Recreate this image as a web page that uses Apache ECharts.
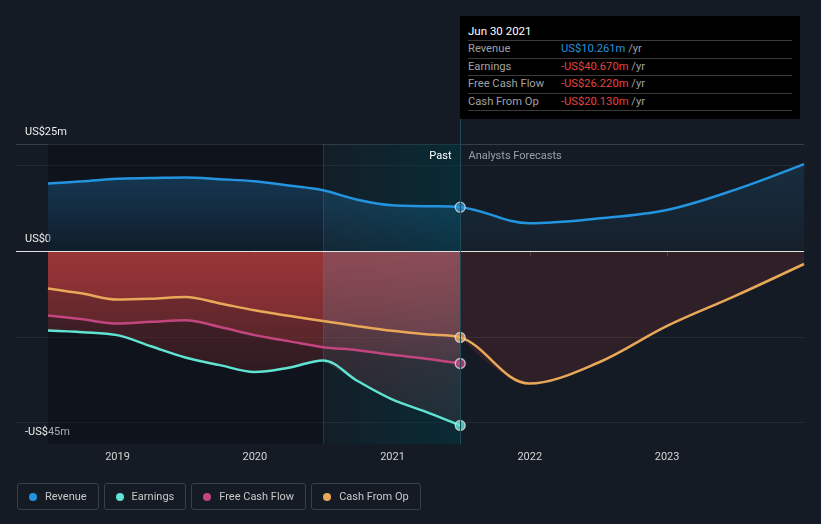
<!DOCTYPE html>
<html><head><meta charset="utf-8">
<script src="https://cdn.jsdelivr.net/npm/echarts@6/dist/echarts.min.js"></script>
<style>
html,body{margin:0;padding:0;background:#151b24;width:821px;height:524px;overflow:hidden;font-family:Roboto,"Noto Sans",sans-serif;}
#c{width:821px;height:524px;position:absolute;left:0;top:0;}
#tip{position:absolute;background:#000;width:340px;height:103px;top:16px;box-sizing:border-box;padding:0 8px;}
#tip .t{color:#fff;font-size:11.5px;line-height:14px;padding-top:8px;height:16px;border-bottom:1px solid #3a3a3a;}
#tip .r{font-size:11.2px;line-height:16.5px;border-bottom:1px solid #3a3a3a;color:#a0a0a0;display:flex;}
#tip .r .l{width:93px;}
#tip .r .u{color:#a0a0a0;}
#legend{position:absolute;left:17px;top:483px;display:flex;}
#legend .it{height:25px;border:1px solid #3a3f48;border-radius:3px;margin-right:5px;padding:0 11px;display:flex;align-items:center;color:#c8c8c8;font-size:11px;}
#legend .d{width:8px;height:8px;border-radius:50%;margin-right:8px;}
</style></head><body>
<div id="c"></div><div id="tip"></div><div id="legend"></div>
<script>
const seriesNames = ['Revenue', 'Earnings', 'Free Cash Flow', 'Cash From Op'];
const seriesColors = ['#2394df', '#5fe3d3', '#c2457f', '#e8a857'];

const pastDates = ['2018-06-30','2018-09-30','2018-12-31','2019-03-31','2019-06-30','2019-09-30','2019-12-31','2020-03-31','2020-06-30','2020-09-30','2020-12-31','2021-03-31','2021-06-30'];
const revenuePast  = [15.8, 16.3, 16.9, 17.05, 17.2, 16.8, 16.3, 15.3, 14.2, 12.0, 10.7, 10.5, 10.261];
const earningsPast = [-18.5, -18.9, -19.6, -22.2, -24.8, -26.6, -28.2, -27.2, -25.5, -30.3, -34.6, -37.5, -40.67];
const fcfPast      = [-15.0, -15.9, -16.9, -16.5, -16.1, -17.7, -19.6, -21.0, -22.4, -23.1, -24.2, -25.1, -26.22];
const cfoPast      = [-8.7, -9.9, -11.3, -11.1, -10.7, -12.2, -13.8, -15.1, -16.3, -17.5, -18.6, -19.4, -20.13];

const forecastDates    = ['2021-06-30','2021-12-31','2022-06-30','2022-12-31','2023-06-30','2023-12-31'];
const revenueForecast  = [10.261, 6.5, 7.6, 9.6, 14.3, 20.3];
const cfoForecast      = [-20.13, -30.9, -26.1, -17.5, -10.5, -3.0];

const highlightStart = '2020-06-30';
const xMin = '2018-04-06', xMax = '2023-12-31';
const yearTicks = ['2019-01-01','2020-01-01','2021-01-01','2022-01-01','2023-01-01'];
const yTickValues = [25, 0, -45];
const yTickLabels = ['US$25m', 'US$0', '-US$45m'];
const tipTitle = 'Jun 30 2021';
const pastLabel = 'Past', forecastLabel = 'Analysts Forecasts';

const P = d => Date.parse(d + 'T00:00:00Z');
const pair = (dates, vals) => dates.map((d, i) => [P(d), vals[i]]);
const SM = 0.35;
const lastIdx = pastDates.length - 1;
const hIdx = pastDates.indexOf(highlightStart);
const lastDate = pastDates[lastIdx];
const pastSets = [revenuePast, earningsPast, fcfPast, cfoPast];

function LG(stops, horiz) {
  return new echarts.graphic.LinearGradient(0, 0, horiz ? 1 : 0, horiz ? 0 : 1, stops.map(s => ({offset: s[0], color: s[1]})));
}
function GLG(y0, y1, rgb, alphas) {
  return new echarts.graphic.LinearGradient(0, y0, 0, y1, alphas.map(a => ({offset: a[0], color: 'rgba(' + rgb + ',' + a[1] + ')'})), true);
}

const gridColors = [];
for (let v = -45; v <= 25; v += 5) {
  if (v === 25) gridColors.push('#383d46');
  else if (v === 20 || v === -20 || v === -40) gridColors.push('#262b33');
  else gridColors.push('rgba(0,0,0,0)');
}

const baseOption = {
  animation: false,
  backgroundColor: '#151b24',
  textStyle: {fontFamily: 'Roboto, "Noto Sans", sans-serif'},
  grid: {left: 16, right: 17, top: 144, bottom: 80, containLabel: false},
  xAxis: {
    type: 'value', min: P(xMin), max: P(xMax),
    axisLine: {lineStyle: {color: '#3a3f48', width: 1}},
    axisTick: {show: true, length: 5, lineStyle: {color: '#3a3f48'}, customValues: yearTicks.map(P)},
    axisLabel: {color: '#d4d4d4', fontSize: 11, margin: 8, customValues: yearTicks.map(P),
      formatter: v => String(new Date(v).getUTCFullYear())},
    splitLine: {show: false}
  },
  yAxis: {
    type: 'value', min: -45, max: 25, interval: 5,
    axisLine: {show: false}, axisTick: {show: false},
    axisLabel: {inside: true, margin: 9, color: '#eeeeee', fontSize: 11, verticalAlign: 'bottom', padding: [0, 0, 6, 0],
      formatter: v => { const k = yTickValues.indexOf(v); return k >= 0 ? yTickLabels[k] : ''; }},
    splitLine: {show: true, lineStyle: {color: gridColors, width: 1}}
  },
  series: []
};

const chart = echarts.init(document.getElementById('c'), null, {renderer: 'canvas'});
chart.setOption(baseOption);

const y0px = chart.convertToPixel({yAxisIndex: 0}, 0);
const yBpx = chart.convertToPixel({yAxisIndex: 0}, -45);
const redStops = [[0, 0.42], [0.3, 0.31], [0.6, 0.2], [1, 0.1]];
const oldRed = GLG(y0px, yBpx, '185,60,62', redStops);
const newRed = GLG(y0px, yBpx, '170,85,95', redStops);

const areaBase = {type: 'line', smooth: SM, showSymbol: false, silent: true, lineStyle: {width: 0, opacity: 0}, z: 2};
const area = (dates, vals, color) => Object.assign({}, areaBase, {data: pair(dates, vals), areaStyle: {color: color, opacity: 1}});
const oldD = pastDates.slice(0, hIdx + 1), newD = pastDates.slice(hIdx);

const series = [
  {type: 'line', data: [], z: 1, silent: true,
    markArea: {silent: true, data: [
      [{xAxis: P(pastDates[0]), yAxis: 25, itemStyle: {color: 'rgba(3,4,8,0.3)'}}, {xAxis: P(highlightStart), yAxis: -45}],
      [{xAxis: P(highlightStart), yAxis: 25, itemStyle: {color: LG([[0, 'rgba(0,55,65,0.12)'], [1, 'rgba(0,55,65,0.56)']], true)}}, {xAxis: P(lastDate), yAxis: -45}]
    ]},
    markLine: {silent: true, symbol: 'none', label: {show: false},
      lineStyle: {color: 'rgba(70,130,150,0.25)', width: 1, type: 'solid'},
      data: [{xAxis: P(highlightStart)}]}
  },
  area(pastDates, revenuePast, LG([[0, 'rgba(35,148,223,0.27)'], [1, 'rgba(35,148,223,0.08)']])),
  area(forecastDates, revenueForecast, LG([[0, 'rgba(35,148,223,0.15)'], [1, 'rgba(35,148,223,0.04)']])),
  area(oldD, cfoPast.slice(0, hIdx + 1), oldRed),
  area(oldD, fcfPast.slice(0, hIdx + 1), oldRed),
  area(oldD, earningsPast.slice(0, hIdx + 1), oldRed),
  area(newD, cfoPast.slice(hIdx), newRed),
  area(newD, fcfPast.slice(hIdx), newRed),
  area(newD, earningsPast.slice(hIdx), newRed),
  area(forecastDates, cfoForecast, 'rgba(185,60,62,0.16)')
];

const lineW = 2.5;
series.push({name: seriesNames[0], type: 'line', smooth: SM, showSymbol: false, z: 3, lineStyle: {color: seriesColors[0], width: lineW},
  data: pair(pastDates, revenuePast).concat(pair(forecastDates.slice(1), revenueForecast.slice(1)))});
series.push({name: seriesNames[1], type: 'line', smooth: SM, showSymbol: false, z: 3, lineStyle: {color: seriesColors[1], width: lineW},
  data: pair(pastDates, earningsPast)});
series.push({name: seriesNames[2], type: 'line', smooth: SM, showSymbol: false, z: 3, lineStyle: {color: seriesColors[2], width: lineW},
  data: pair(pastDates, fcfPast)});
series.push({name: seriesNames[3], type: 'line', smooth: SM, showSymbol: false, z: 3, lineStyle: {color: seriesColors[3], width: lineW},
  data: pair(pastDates, cfoPast).concat(pair(forecastDates.slice(1), cfoForecast.slice(1)))});

series.push({type: 'scatter', z: 5, symbolSize: 10, silent: true,
  data: pastSets.map((s, i) => ({value: [P(lastDate), s[lastIdx]], itemStyle: {color: seriesColors[i], borderColor: 'rgba(235,235,235,0.9)', borderWidth: 1.3}})),
  markLine: {silent: true, symbol: 'none', label: {show: false}, lineStyle: {color: '#e2e2e2', width: 1, type: 'solid'}, data: [{yAxis: 0}]}
});

chart.setOption({series: series});

const lx = Math.round(chart.convertToPixel({xAxisIndex: 0}, P(lastDate))) + 0.5;
const gridBottom = Math.round(yBpx);
chart.setOption({graphic: [
  {type: 'line', z: 10, silent: true, shape: {x1: lx, y1: 119, x2: lx, y2: gridBottom}, style: {stroke: '#1f4a56', lineWidth: 1}},
  {type: 'text', z: 10, silent: true, x: lx - 9, y: 156, style: {text: pastLabel, fill: '#ffffff', fontSize: 11, fontFamily: 'Roboto', align: 'right', verticalAlign: 'middle'}},
  {type: 'text', z: 10, silent: true, x: lx + 8, y: 156, style: {text: forecastLabel, fill: '#9aa0a8', fontSize: 11, fontFamily: 'Roboto', align: 'left', verticalAlign: 'middle'}}
]});

const fmt = v => (v < 0 ? '-US$' : 'US$') + Math.abs(v).toFixed(3) + 'm';
const tip = document.getElementById('tip');
tip.style.left = Math.floor(lx) + 'px';
let h = '<div class="t">' + tipTitle + '</div>';
pastSets.forEach((s, i) => {
  const v = s[lastIdx];
  const col = v < 0 ? '#e8433f' : seriesColors[0];
  h += '<div class="r"><span class="l">' + seriesNames[i] + '</span><span style="color:' + col + '">' + fmt(v) + '</span><span class="u">&nbsp;/yr</span></div>';
});
tip.innerHTML = h;

const lg = document.getElementById('legend');
lg.innerHTML = seriesNames.map((n, i) => '<div class="it"><span class="d" style="background:' + seriesColors[i] + '"></span>' + n + '</div>').join('');
</script>
</body></html>
